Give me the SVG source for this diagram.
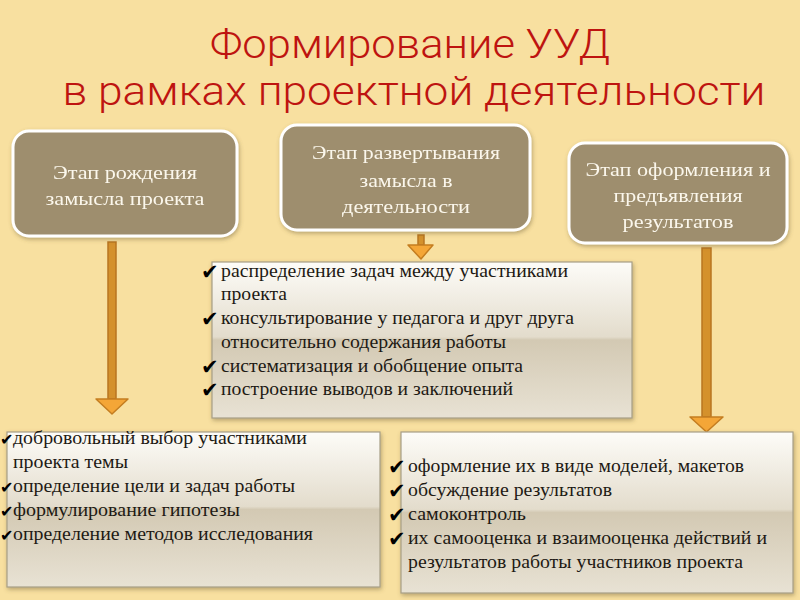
<svg xmlns="http://www.w3.org/2000/svg" width="800" height="600" viewBox="0 0 800 600">
<defs>
<linearGradient id="panel" x1="0" y1="0" x2="0" y2="1">
<stop offset="0" stop-color="#FDFCF8"/>
<stop offset="0.48" stop-color="#E3DCCC"/>
<stop offset="0.5" stop-color="#D3C9B3"/>
<stop offset="1" stop-color="#E8E2D4"/>
</linearGradient>
<filter id="sh" x="-10%" y="-10%" width="120%" height="130%">
<feDropShadow dx="1" dy="2" stdDeviation="2" flood-color="#6B5A30" flood-opacity="0.45"/>
</filter>
</defs>
<style>
.stage{fill:#9E8E6E;stroke:#FFFFFF;stroke-width:3}
.stxt{font-family:"Liberation Serif",serif;font-size:18px;fill:#FBF7EC;text-anchor:middle}
.panel{fill:url(#panel);stroke:#A79E86;stroke-width:1.2}
.ptxt{font-family:"Liberation Serif",serif;font-size:18px;fill:#1E1A14}
.chk{font-family:"DejaVu Sans",sans-serif;font-size:21px;fill:#000000}
.chk1{font-family:"DejaVu Sans",sans-serif;font-size:16px;fill:#000000}
.title{font-family:Roboto,"Liberation Sans",sans-serif;font-weight:300;font-size:41px;fill:#BE1410;text-anchor:middle}
.shaft{fill:#D4912C;stroke:#B87520;stroke-width:1.5}
.head{fill:#F4A637;stroke:#C47D20;stroke-width:1.5;stroke-linejoin:round}
</style>
<rect x="0" y="0" width="800" height="600" fill="#F8E0A0"/>
<g id="title">
<text class="title" x="410" y="58" textLength="400" lengthAdjust="spacingAndGlyphs">Формирование УУД</text>
<text class="title" x="414" y="105" textLength="703" lengthAdjust="spacingAndGlyphs">в рамках проектной деятельности</text>
</g>
<g id="connectors">
<rect class="shaft" x="108" y="242" width="8" height="157"/>
<polygon class="head" points="96,399 128,399 112,414"/>
<rect class="shaft" x="418" y="235" width="6" height="10"/>
<polygon class="head" points="408,245 433,245 421,259"/>
<rect class="shaft" x="702" y="248" width="9" height="169"/>
<polygon class="head" points="690,417 723,417 706.5,432"/>
</g>
<g id="stage1" filter="url(#sh)">
<rect class="stage" x="13" y="131" width="224" height="105" rx="16"/>
<text class="stxt" x="125" y="179" textLength="144" lengthAdjust="spacingAndGlyphs">Этап рождения</text>
<text class="stxt" x="125" y="205" textLength="159" lengthAdjust="spacingAndGlyphs">замысла проекта</text>
</g>
<g id="stage2" filter="url(#sh)">
<rect class="stage" x="281" y="125" width="249" height="105" rx="16"/>
<text class="stxt" x="406" y="159" textLength="188" lengthAdjust="spacingAndGlyphs">Этап развертывания</text>
<text class="stxt" x="406" y="187" textLength="93" lengthAdjust="spacingAndGlyphs">замысла в</text>
<text class="stxt" x="406" y="213" textLength="128" lengthAdjust="spacingAndGlyphs">деятельности</text>
</g>
<g id="stage3" filter="url(#sh)">
<rect class="stage" x="569" y="143" width="218" height="100" rx="16"/>
<text class="stxt" x="678" y="176" textLength="185" lengthAdjust="spacingAndGlyphs">Этап оформления и</text>
<text class="stxt" x="678" y="202" textLength="129" lengthAdjust="spacingAndGlyphs">предъявления</text>
<text class="stxt" x="678" y="228" textLength="111" lengthAdjust="spacingAndGlyphs">результатов</text>
</g>
<g id="list2">
<rect class="panel" x="212" y="262" width="420" height="156" filter="url(#sh)"/>
<text class="chk" x="201" y="279">✔</text>
<text class="ptxt" x="221" y="277" textLength="347" lengthAdjust="spacingAndGlyphs">распределение задач между участниками</text>
<text class="ptxt" x="221" y="300" textLength="66" lengthAdjust="spacingAndGlyphs">проекта</text>
<text class="chk" x="201" y="326">✔</text>
<text class="ptxt" x="221" y="324" textLength="353" lengthAdjust="spacingAndGlyphs">консультирование у педагога и друг друга</text>
<text class="ptxt" x="221" y="348" textLength="285" lengthAdjust="spacingAndGlyphs">относительно содержания работы</text>
<text class="chk" x="201" y="374">✔</text>
<text class="ptxt" x="221" y="372" textLength="302" lengthAdjust="spacingAndGlyphs">систематизация и обобщение опыта</text>
<text class="chk" x="201" y="397">✔</text>
<text class="ptxt" x="221" y="395" textLength="292" lengthAdjust="spacingAndGlyphs">построение выводов и заключений</text>
</g>
<g id="list1">
<rect class="panel" x="7" y="432" width="373" height="155" filter="url(#sh)"/>
<text class="chk1" x="0" y="445">✔</text>
<text class="ptxt" x="13" y="444" textLength="294" lengthAdjust="spacingAndGlyphs">добровольный выбор участниками</text>
<text class="ptxt" x="13" y="468" textLength="115" lengthAdjust="spacingAndGlyphs">проекта темы</text>
<text class="chk1" x="0" y="493">✔</text>
<text class="ptxt" x="13" y="492" textLength="282" lengthAdjust="spacingAndGlyphs">определение цели и задач работы</text>
<text class="chk1" x="0" y="517">✔</text>
<text class="ptxt" x="13" y="516" textLength="227" lengthAdjust="spacingAndGlyphs">формулирование гипотезы</text>
<text class="chk1" x="0" y="541">✔</text>
<text class="ptxt" x="13" y="540" textLength="300" lengthAdjust="spacingAndGlyphs">определение методов исследования</text>
</g>
<g id="list3">
<rect class="panel" x="401" y="432" width="392" height="161" filter="url(#sh)"/>
<text class="chk" x="388" y="474">✔</text>
<text class="ptxt" x="408" y="472" textLength="336" lengthAdjust="spacingAndGlyphs">оформление их в виде моделей, макетов</text>
<text class="chk" x="388" y="498">✔</text>
<text class="ptxt" x="408" y="496" textLength="204" lengthAdjust="spacingAndGlyphs">обсуждение результатов</text>
<text class="chk" x="388" y="522">✔</text>
<text class="ptxt" x="408" y="520" textLength="118" lengthAdjust="spacingAndGlyphs">самоконтроль</text>
<text class="chk" x="388" y="546">✔</text>
<text class="ptxt" x="408" y="544" textLength="359" lengthAdjust="spacingAndGlyphs">их самооценка и взаимооценка действий и</text>
<text class="ptxt" x="408" y="568" textLength="335" lengthAdjust="spacingAndGlyphs">результатов работы участников проекта</text>
</g>
</svg>
